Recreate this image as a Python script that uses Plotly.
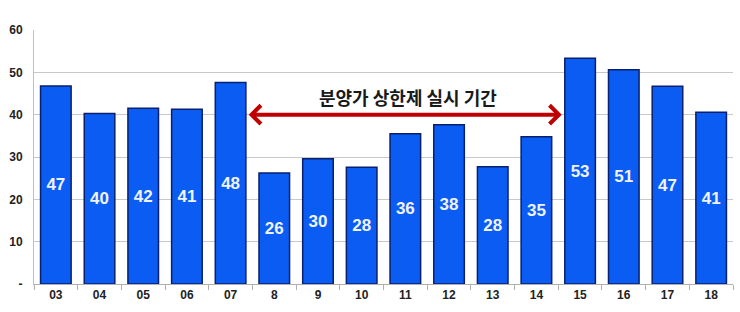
import plotly.graph_objects as go

categories = ["03", "04", "05", "06", "07", "8", "9", "10", "11", "12", "13", "14", "15", "16", "17", "18"]
values = [46.8, 40.3, 41.5, 41.3, 47.6, 26.2, 29.6, 27.6, 35.5, 37.6, 27.7, 34.8, 53.3, 50.6, 46.7, 40.6]
labels = ["47", "40", "42", "41", "48", "26", "30", "28", "36", "38", "28", "35", "53", "51", "47", "41"]
y_ticks = [0, 10, 20, 30, 40, 50, 60]
y_tick_text = ["<b>-</b>", "<b>10</b>", "<b>20</b>", "<b>30</b>", "<b>40</b>", "<b>50</b>", "<b>60</b>"]
x_tick_text = ["<b>" + c + "</b>" for c in categories]
annotation_text = "분양가 상한제 실시 기간"

fig = go.Figure()
fig.add_trace(go.Bar(
    x=categories,
    y=values,
    text=["<b>" + s + "</b>" for s in labels],
    textposition="inside",
    insidetextanchor="middle",
    textangle=0,
    textfont=dict(family="Liberation Sans Narrow, Arial Narrow, Liberation Sans", size=17, color="#eef3ff"),
    marker=dict(color="#0b5cf2", line=dict(color="#08206e", width=1.5)),
    width=0.7,
    cliponaxis=False,
))

# red double arrow across the price-cap period
fig.add_annotation(
    x=11.58, y=40, ax=4.38, ay=40, xref="x", yref="y", axref="x", ayref="y",
    text="", showarrow=True, arrowhead=4, startarrowhead=4, arrowside="end+start",
    arrowwidth=4, arrowsize=0.9, startarrowsize=0.9, arrowcolor="#c00000",
)
fig.add_annotation(
    x=8.05, y=44.2, xref="x", yref="y", text="<b>" + annotation_text + "</b>",
    showarrow=False, font=dict(family="Noto Sans CJK KR", size=18, color="#1a1a1a"),
)

fig.update_layout(
    width=740, height=312,
    margin=dict(l=34, r=7, t=30, b=28),
    paper_bgcolor="white", plot_bgcolor="white",
    showlegend=False,
    bargap=0.3,
    font=dict(family="Liberation Sans, Arial", color="#222"),
)
fig.update_xaxes(
    type="category",
    tickvals=categories, ticktext=x_tick_text,
    showline=True, linecolor="#b0b0b0", linewidth=1,
    ticks="outside", tickson="boundaries", ticklen=5, tickcolor="#b0b0b0",
    tickfont=dict(family="Liberation Sans, Arial", size=12, color="#222"),
    showgrid=False,
)
fig.update_yaxes(
    range=[0, 60], tickvals=y_ticks, ticktext=y_tick_text,
    showline=True, linecolor="#c0c0c0", linewidth=1,
    showgrid=True, gridcolor="#c8c8c8", gridwidth=1,
    tickfont=dict(family="Liberation Sans, Arial", size=12, color="#222"),
    ticklabelstandoff=8, zeroline=False,
)

fig.write_html("out.html")
